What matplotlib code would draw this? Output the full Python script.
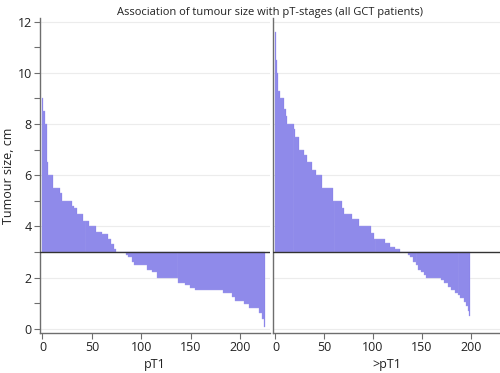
import numpy as np
import matplotlib
matplotlib.use("Agg")
import matplotlib.pyplot as plt

plt.rcParams['font.family'] = ['Open Sans', 'DejaVu Sans']

# tumour sizes (cm), sorted descending, stored as runs of equal values
pt1_sizes = [9.0, 8.5, 8.0, 6.5, 6.0, 5.5, 5.3, 5.0, 4.8, 4.7, 4.5, 4.2, 4.0, 3.8, 3.7,
             3.5, 3.3, 3.1, 3.0, 2.9, 2.8, 2.6, 2.5, 2.3, 2.2, 2.0, 1.8, 1.7, 1.6, 1.5,
             1.4, 1.25, 1.1, 0.95, 0.8, 0.6, 0.4, 0.05]
pt1_counts = [1, 2, 2, 1, 5, 7, 2, 10, 2, 3, 6, 7, 7, 6, 6,
              3, 3, 2, 10, 2, 4, 2, 13, 5, 5, 22, 7, 5, 5, 28,
              9, 3, 9, 5, 10, 3, 2, 1]

gt_pt1_sizes = [11.6, 10.5, 10.0, 9.3, 9.0, 8.6, 8.3, 8.0, 7.8, 7.5, 7.0, 6.8, 6.5, 6.2,
                6.0, 5.5, 5.0, 4.7, 4.5, 4.3, 4.0, 3.75, 3.5, 3.35, 3.2, 3.1, 3.0, 2.9,
                2.8, 2.6, 2.5, 2.3, 2.2, 2.1, 2.0, 1.9, 1.8, 1.65, 1.5, 1.4, 1.3, 1.2,
                1.05, 0.9, 0.7, 0.5]
gt_pt1_counts = [1, 1, 1, 2, 4, 2, 1, 7, 2, 4, 5, 3, 5, 4,
                 6, 11, 10, 2, 8, 7, 12, 3, 12, 5, 5, 5, 8, 2,
                 3, 3, 3, 3, 3, 2, 15, 3, 4, 3, 4, 3, 3, 4,
                 2, 2, 1, 1]

groups = ["pT1", ">pT1"]
cutoff = 3.0
title = "Association of tumour size with pT-stages (all GCT patients)"

bar_col = "#7d77e6"
spine_col = "#6e6e6e"
txt_col = "#222222"

fig = plt.figure(figsize=(5, 3.73), dpi=100)
ax1 = fig.add_axes([0.08, 0.107, 0.46, 0.845])
ax2 = fig.add_axes([0.546, 0.107, 0.454, 0.845], sharey=ax1)

for ax, sizes, counts, name in [(ax1, pt1_sizes, pt1_counts, groups[0]),
                                (ax2, gt_pt1_sizes, gt_pt1_counts, groups[1])]:
    vals = np.repeat(sizes, counts)
    idx = np.arange(len(vals))
    ax.bar(idx, vals - cutoff, bottom=cutoff, width=1.0, color=bar_col,
           edgecolor="#a7a2ef", linewidth=0.25, zorder=2)
    ax.axhline(cutoff, color="#333333", lw=1.0, zorder=3)
    ax.set_xlim(-2.5, 230)
    ax.set_ylim(-0.17, 12.15)
    ax.set_xticks([0, 50, 100, 150, 200])
    ax.set_yticks(np.arange(0, 13, 2))
    ax.grid(axis="y", color="#ececec", lw=0.8, zorder=0)
    ax.set_axisbelow(True)
    for s in ["top", "right"]:
        ax.spines[s].set_visible(False)
    for s in ["left", "bottom"]:
        ax.spines[s].set_color(spine_col)
        ax.spines[s].set_linewidth(1.0)
    ax.tick_params(axis="x", colors=spine_col, labelcolor=txt_col, labelsize=9,
                   length=4, width=0.8, pad=1.5)
    ax.text(0.5, -0.1, name, transform=ax.transAxes, ha="center", va="center",
            fontsize=9, color=txt_col)

ax1.set_yticks(np.arange(1, 13, 2), minor=True)
ax1.tick_params(axis="y", which="both", colors=spine_col, labelcolor=txt_col,
                labelsize=9, length=4, width=0.8, pad=2)
ax1.text(-0.135, 0.5, "Tumour size, cm", transform=ax1.transAxes, rotation=90,
         ha="center", va="center", fontsize=9, color=txt_col)
ax2.tick_params(axis="y", which="both", left=False, labelleft=False)

fig.text(0.54, 0.98, title, ha="center", va="top", fontsize=8, color=txt_col)

fig.savefig("out.png", dpi=100)
